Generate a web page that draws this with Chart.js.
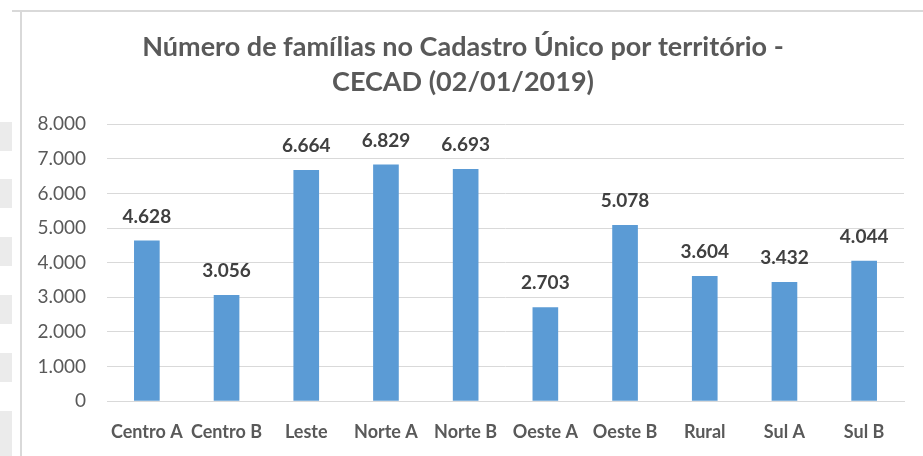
<!DOCTYPE html>
<html>
<head>
<meta charset="utf-8">
<script src="https://cdn.jsdelivr.net/npm/chart.js"></script>
<style>
  html, body { margin: 0; padding: 0; background: #fff; }
  body { width: 923px; height: 456px; position: relative; overflow: hidden; }
  .frame-top { position: absolute; left: 12px; top: 10px; width: 911px; height: 2px; background: #d9d9d9; }
  .frame-left { position: absolute; left: 20px; top: 12px; width: 2px; height: 444px; background: #d9d9d9; }
  .cell { position: absolute; left: 0; width: 12px; height: 29px; background: #ebebeb; }
  #wrap { position: absolute; left: 22px; top: 12px; width: 901px; height: 444px; }
</style>
</head>
<body>
<div class="frame-top"></div>
<div class="frame-left"></div>
<div class="cell" style="top:122px"></div>
<div class="cell" style="top:179px"></div>
<div class="cell" style="top:237px"></div>
<div class="cell" style="top:295px"></div>
<div class="cell" style="top:353px"></div>
<div class="cell" style="top:411px;height:45px"></div>
<div id="wrap"><canvas id="chart"></canvas></div>
<script>
const territorios = ["Centro A", "Centro B", "Leste", "Norte A", "Norte B", "Oeste A", "Oeste B", "Rural", "Sul A", "Sul B"];
const familias = [4628, 3056, 6664, 6829, 6693, 2703, 5078, 3604, 3432, 4044];
const yTicks = [0, 1000, 2000, 3000, 4000, 5000, 6000, 7000, 8000];
const titulo = ["Número de famílias no Cadastro Único por território -", "CECAD (02/01/2019)"];

const FONT = "Lato, 'Open Sans', sans-serif";

// thousands separator as in pt-BR
function fmt(n) {
  return String(n).replace(/\B(?=(\d{3})+(?!\d))/g, ".");
}

// draws the value above each bar
const valueLabels = {
  id: "valueLabels",
  afterDatasetsDraw(chart) {
    const ctx = chart.ctx;
    const meta = chart.getDatasetMeta(0);
    ctx.save();
    ctx.font = "bold 19px " + FONT;
    ctx.fillStyle = "#404040";
    ctx.textAlign = "center";
    ctx.textBaseline = "alphabetic";
    meta.data.forEach((bar, i) => {
      ctx.fillText(fmt(chart.data.datasets[0].data[i]), bar.x, bar.y - 18);
    });
    ctx.restore();
  }
};

new Chart(document.getElementById("chart"), {
  type: "bar",
  data: {
    labels: territorios,
    datasets: [{
      data: familias,
      backgroundColor: "#5b9bd5",
      barThickness: 25
    }]
  },
  options: {
    responsive: true,
    maintainAspectRatio: false,
    animation: false,
    layout: { padding: { left: 0, right: 19, top: 0, bottom: 0 } },
    plugins: {
      legend: { display: false },
      tooltip: { enabled: false },
      title: {
        display: true,
        text: titulo,
        color: "#595959",
        font: { family: FONT, size: 27, weight: "bold", lineHeight: 1.3 },
        padding: { top: 18, bottom: 24 }
      }
    },
    scales: {
      x: {
        grid: { display: false, drawTicks: false },
        border: { display: true, color: "#d9d9d9", width: 1 },
        ticks: {
          color: "#595959",
          font: { family: FONT, size: 18, weight: "bold" },
          padding: 20,
          maxRotation: 0,
          autoSkip: false
        },
        afterFit(s) { s.height = 55; }
      },
      y: {
        min: 0,
        max: 8000,
        afterBuildTicks(s) { s.ticks = yTicks.map(v => ({ value: v })); },
        grid: { color: "#d9d9d9", drawTicks: false },
        border: { display: false },
        ticks: {
          color: "#595959",
          font: { family: FONT, size: 19 },
          padding: 21,
          callback: v => fmt(v)
        },
        afterFit(s) { s.width = 85; }
      }
    }
  },
  plugins: [valueLabels]
});
</script>
</body>
</html>
